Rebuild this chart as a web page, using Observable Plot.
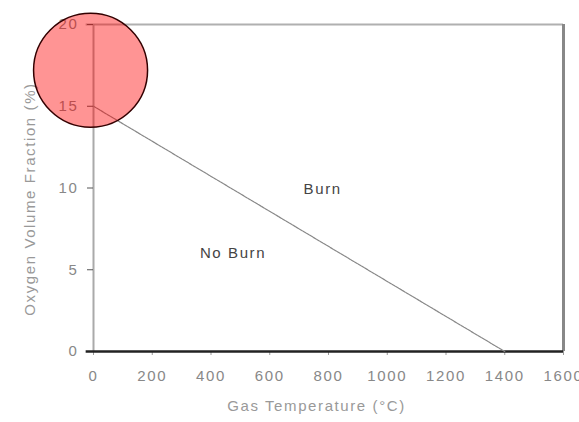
<!DOCTYPE html>
<html><head><meta charset="utf-8">
<script src="https://cdn.jsdelivr.net/npm/d3@7"></script>
<script src="https://cdn.jsdelivr.net/npm/@observablehq/plot@0.6"></script>
<style>body{margin:0;background:#fff;font-family:"Liberation Sans",Arial,sans-serif}</style>
</head><body><div id="chart"></div>
<script>
const xTicks = [0, 200, 400, 600, 800, 1000, 1200, 1400, 1600];
const yTicks = [0, 5, 10, 15, 20];
const boundaryTemp = [0, 1400];
const boundaryO2 = [15, 0];
const regionLabels = ["Burn", "No Burn"];
const regionTemp = [780, 475];
const regionO2 = [9.9, 6.0];
const markerTemp = [-10];
const markerO2 = [17.2];

const boundary = boundaryTemp.map((t, i) => ({t, o: boundaryO2[i]}));
const regions = regionLabels.map((l, i) => ({l, t: regionTemp[i], o: regionO2[i]}));
const marker = markerTemp.map((t, i) => ({t, o: markerO2[i]}));

const chart = Plot.plot({
  width: 579, height: 422,
  marginLeft: 93, marginRight: 16, marginTop: 24, marginBottom: 71,
  style: {fontFamily: "Liberation Sans, Arial, sans-serif", fontSize: "15px", letterSpacing: "1.6px", color: "#888", background: "white"},
  x: {domain: [0, 1600], ticks: xTicks, label: null},
  y: {domain: [0, 20], ticks: yTicks, label: null},
  marks: [
    Plot.ruleY([20], {stroke: "#b0b0b0", strokeWidth: 2, x1: -25, x2: 1600}),
    Plot.ruleX([1600], {stroke: "#888", strokeWidth: 3}),
    Plot.ruleX([0], {stroke: "#aaa", strokeWidth: 2}),
    Plot.axisY({ticks: yTicks, tickSize: 6, tickPadding: 9, stroke: "#555", fill: "#888", fontSize: 15, label: null}),
    Plot.axisX({ticks: xTicks, tickSize: 4, tickPadding: 15, stroke: "#999", fill: "#888", fontSize: 15, tickFormat: d => String(d), label: null}),
    Plot.ruleY([0], {stroke: "#222", strokeWidth: 2.5, x1: -25, x2: 1600}),
    Plot.line(boundary, {x: "t", y: "o", stroke: "#888", strokeWidth: 1.2, strokeDasharray: "3,1"}),
    Plot.text(regions, {x: "t", y: "o", text: "l", fill: "#444", fontSize: 15}),
    Plot.text(["Oxygen Volume Fraction (%)"], {frameAnchor: "left", textAnchor: "middle", dx: -63, dy: 11, rotate: -90, fill: "#999", fontSize: 15}),
    Plot.text(["Gas Temperature (°C)"], {frameAnchor: "bottom", dx: -12, dy: 59, fill: "#999", fontSize: 15}),
    Plot.dot(marker, {x: "t", y: "o", r: 57, fill: "red", fillOpacity: 0.42, stroke: "#300", strokeWidth: 1.5, clip: false})
  ]
});
document.getElementById("chart").appendChild(chart);
</script></body></html>
